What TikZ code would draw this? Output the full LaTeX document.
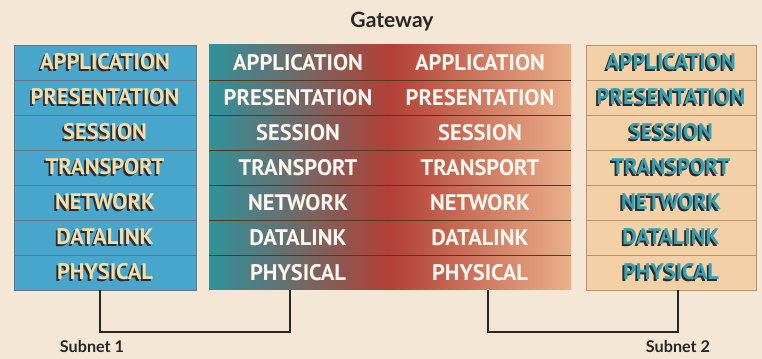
\documentclass[tikz,border=0pt]{standalone}
\usepackage{fontspec}
\setmainfont{PT Sans}
\newfontfamily\labelfont{Lato}
\definecolor{paper}{RGB}{244,231,214}
\definecolor{stackblue}{RGB}{72,166,204}
\definecolor{stackpeach}{RGB}{243,208,166}
\definecolor{gwteal}{RGB}{48,146,156}
\definecolor{gwred}{RGB}{178,64,54}
\definecolor{gwpeach}{RGB}{234,176,138}
\definecolor{cream}{RGB}{242,222,168}
\definecolor{tealtext}{RGB}{52,162,176}
\definecolor{shade}{RGB}{48,40,44}
\definecolor{blueedge}{RGB}{105,115,135}
\definecolor{peachedge}{RGB}{185,145,110}
\newcommand{\raised}[3]{\rlap{\kern-1.3pt\raisebox{-1.3pt}{\color{#2}#3}}{\color{#1}#3}}
\tikzset{
  leftrow/.style={draw=blueedge, fill=stackblue, minimum width=4.55cm, minimum height=0.875cm,
    inner sep=0pt, font=\bfseries\fontsize{16}{16}\selectfont},
  rightrow/.style={draw=peachedge, fill=stackpeach, minimum width=4.25cm, minimum height=0.875cm,
    inner sep=0pt, font=\bfseries\fontsize{16}{16}\selectfont},
  gwrow/.style={text=white!94!orange, minimum height=0.875cm, inner sep=0pt,
    font=\bfseries\fontsize{16}{16}\selectfont},
  rowline/.style={draw=black!55!brown, line width=0.6pt},
  link/.style={draw=black!85, line width=1.2pt},
  toplabel/.style={font=\labelfont\bfseries\fontsize{15}{15}\selectfont, text=black!85},
  sublabel/.style={font=\labelfont\bfseries\fontsize{11.5}{11.5}\selectfont, text=black!85}
}
\begin{document}
\begin{tikzpicture}[x=0.025cm, y=-0.025cm]
\fill[paper] (0,0) rectangle (762,359);
\useasboundingbox (0,0) rectangle (762,359);

\foreach \lay [count=\i] in {APPLICATION,PRESENTATION,SESSION,TRANSPORT,NETWORK,DATALINK,PHYSICAL}
  \node[leftrow] (l\i) at (105,{27.5+35*\i}) {\raised{cream}{shade}{\lay}};

\shade[left color=gwteal, right color=gwpeach, middle color=gwred] (209,45) rectangle (571,290);
\foreach \i in {1,...,6}
  \draw[rowline] (209,{45+35*\i}) -- (571,{45+35*\i});
\foreach \lay [count=\i] in {APPLICATION,PRESENTATION,SESSION,TRANSPORT,NETWORK,DATALINK,PHYSICAL} {
  \node[gwrow] (ga\i) at (298,{27.5+35*\i}) {\lay};
  \node[gwrow] (gb\i) at (480,{27.5+35*\i}) {\lay};
}

\foreach \lay [count=\i] in {APPLICATION,PRESENTATION,SESSION,TRANSPORT,NETWORK,DATALINK,PHYSICAL}
  \node[rightrow] (r\i) at (671,{27.5+35*\i}) {\raised{tealtext}{shade}{\lay}};

\node[toplabel] (gw) at (392,22) {Gateway};

\draw[link] ([xshift=-3.5pt]l7.south) -- ++(0,42) -| ([xshift=-5.7pt]ga7.south);
\draw[link] ([xshift=5.7pt]gb7.south) -- ++(0,42) -| ([xshift=5pt]r7.south);

\node[sublabel] (sub1) at (92,347) {Subnet 1};
\node[sublabel] (sub2) at (678,347) {Subnet 2};
\end{tikzpicture}
\end{document}
